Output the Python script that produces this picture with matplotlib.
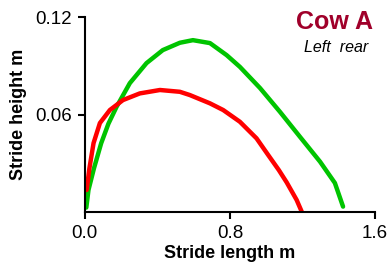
import numpy as np
import matplotlib.pyplot as plt

# Data (stride length m, stride height m)
green_x = [0.008, 0.02, 0.05, 0.09, 0.13, 0.175, 0.248, 0.34, 0.43, 0.524, 0.596,
           0.69, 0.782, 0.855, 0.966, 1.076, 1.186, 1.297, 1.379, 1.424]
green_y = [0.003, 0.0138, 0.027, 0.0425, 0.0545, 0.0649, 0.0794, 0.0917, 0.0997, 0.1042, 0.1058,
           0.104, 0.0966, 0.0894, 0.0764, 0.0618, 0.0465, 0.0312, 0.0181, 0.0036]

red_x = [0.01, 0.025, 0.048, 0.083, 0.138, 0.21, 0.303, 0.414, 0.524, 0.579,
         0.69, 0.763, 0.855, 0.947, 1.011, 1.07, 1.113, 1.168, 1.196]
red_y = [0.0138, 0.027, 0.0426, 0.0549, 0.0629, 0.069, 0.0731, 0.0752, 0.0741, 0.0721,
         0.067, 0.0629, 0.0557, 0.0455, 0.0353, 0.026, 0.0185, 0.0077, 0.0005]

xticks = [0.0, 0.8, 1.6]
yticks = [0.06, 0.12]

plt.rcParams['font.family'] = ['Liberation Sans', 'DejaVu Sans']

fig = plt.figure(figsize=(3.91, 2.62), dpi=100)
ax = fig.add_axes([0.217, 0.189, 0.742, 0.746])

ax.plot(green_x, green_y, color='#00c400', lw=3.2, solid_capstyle='round')
ax.plot(red_x, red_y, color='#ff0000', lw=3.2, solid_capstyle='round')

ax.set_xlim(0, 1.6)
ax.set_ylim(0, 0.12)
ax.set_xticks(xticks)
ax.set_xticklabels(['0.0', '0.8', '1.6'])
ax.set_yticks(yticks)
ax.set_yticklabels(['0.06', '0.12'])

for side in ['top', 'right']:
    ax.spines[side].set_visible(False)
for side in ['left', 'bottom']:
    ax.spines[side].set_linewidth(1.5)
ax.tick_params(direction='out', length=5, width=1.5, labelsize=13.5, pad=4)

ax.set_xlabel('Stride length m', fontsize=13, fontweight='bold', labelpad=2)
ax.set_ylabel('Stride height m', fontsize=13, fontweight='bold', labelpad=6)

fig.text(0.855, 0.915, 'Cow A', fontsize=18, fontweight='bold', color='#a0002a',
         ha='center', va='center')
fig.text(0.86, 0.82, 'Left  rear', fontsize=11.5, style='italic', color='black',
         ha='center', va='center')

fig.savefig('out.png', dpi=100)
